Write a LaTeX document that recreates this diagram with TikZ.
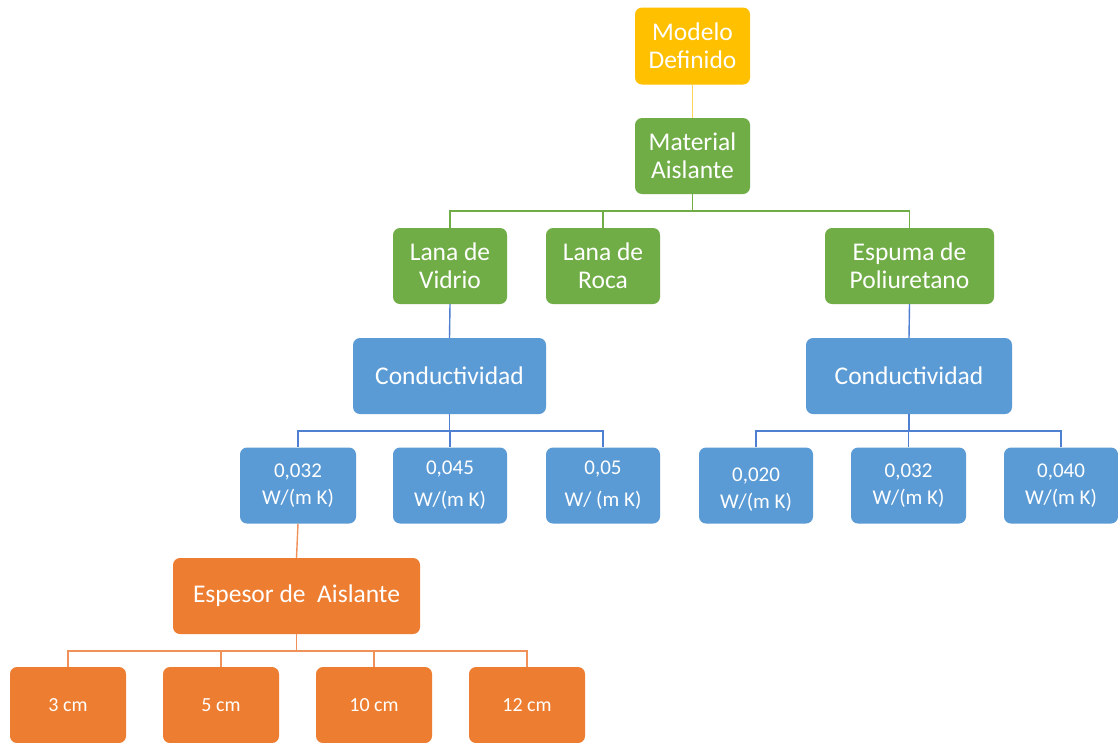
\documentclass[tikz,border=0pt]{standalone}
\usepackage{fontspec}
\setmainfont{Carlito}
\definecolor{gold}{HTML}{FFC000}
\definecolor{goldline}{HTML}{FFD25A}
\definecolor{leaf}{HTML}{70AD47}
\definecolor{sky}{HTML}{5B9BD5}
\definecolor{skyline}{HTML}{4F7FD0}
\definecolor{tangerine}{HTML}{ED7D31}
\definecolor{tangline}{HTML}{F0915A}
\begin{document}
\begin{tikzpicture}[x=1pt,y=-1pt,
  box/.style={rounded corners=7pt, text=white, align=center, inner sep=0pt},
  big/.style={font=\fontsize{25.5}{28}\selectfont},
  small/.style={font=\fontsize{21}{27}\selectfont},
  tiny/.style={font=\fontsize{20}{24}\selectfont},
  goldbox/.style={box, fill=gold, big, minimum width=115pt, minimum height=77pt},
  greenbox/.style={box, fill=leaf, big, minimum height=76pt},
  bluebox/.style={box, fill=sky, minimum height=76pt},
  orangebox/.style={box, fill=tangerine, minimum height=76pt},
  gl/.style={draw=goldline, line width=1.4pt},
  grl/.style={draw=leaf, line width=1.4pt},
  bl/.style={draw=skyline, line width=1.4pt},
  ol/.style={draw=tangline, line width=1.4pt}]
\useasboundingbox[fill=white] (0,0) rectangle (1118,742);

% levels
\node[goldbox] (mod) at (692.5,46) {Modelo\\Definido};
\node[greenbox, minimum width=115pt] (mat) at (692.5,156) {Material\\Aislante};

\node[greenbox, minimum width=114pt] (lv) at (450,266) {Lana de\\Vidrio};
\node[greenbox, minimum width=114pt] (lr) at (603,266) {Lana de\\Roca};
\node[greenbox, minimum width=169pt] (ep) at (909.5,266) {Espuma de\\Poliuretano};

\node[bluebox, big, minimum width=193pt] (c1) at (449.5,376) {Conductividad};
\node[bluebox, big, minimum width=206pt] (c2) at (909,376) {Conductividad};

\node[bluebox, small, minimum width=116pt] (v1) at (298,485.5) {0,032\\W/(m K)};
\node[bluebox, font=\fontsize{21}{32}\selectfont, minimum width=114pt] (v2) at (450,485.5) {0,045\\W/(m K)};
\node[bluebox, font=\fontsize{21}{32}\selectfont, minimum width=114pt] (v3) at (603,485.5) {0,05\\W/ (m K)};
\node[bluebox, small, minimum width=114pt] (v4) at (756,485.5) {\rule{0pt}{21pt}0,020\\W/(m K)};
\node[bluebox, small, minimum width=115pt] (v5) at (908.5,485.5) {0,032\\W/(m K)};
\node[bluebox, small, minimum width=114pt] (v6) at (1061,485.5) {0,040\\W/(m K)};

\node[orangebox, big, minimum width=247pt] (es) at (296.5,596) {Espesor de\ \ Aislante};

\node[orangebox, tiny, minimum width=116pt] (t1) at (68,705) {3 cm};
\node[orangebox, tiny, minimum width=116pt] (t2) at (221,705) {5 cm};
\node[orangebox, tiny, minimum width=116pt] (t3) at (374,705) {10 cm};
\node[orangebox, tiny, minimum width=116pt] (t4) at (527,705) {12 cm};

% bus heights
\coordinate (gbus) at (0,211);
\coordinate (bbus) at (0,431);
\coordinate (obus) at (0,651);

% connectors
\draw[gl] (mod.south) -- (mat.north);
\foreach \k in {lv,lr,ep}
  \draw[grl] (mat.south) -- (mat.south |- gbus) -| (\k.north);
\draw[bl] (lv.south) -- (c1.north);
\draw[bl] (ep.south) -- (c2.north);
\foreach \k in {v1,v2,v3}
  \draw[bl] (c1.south) -- (c1.south |- bbus) -| (\k.north);
\foreach \k in {v4,v5,v6}
  \draw[bl] (c2.south) -- (c2.south |- bbus) -| (\k.north);
\draw[ol] (v1.south) -- (es.north);
\foreach \k in {t1,t2,t3,t4}
  \draw[ol] (es.south) -- (es.south |- obus) -| (\k.north);
\end{tikzpicture}
\end{document}
